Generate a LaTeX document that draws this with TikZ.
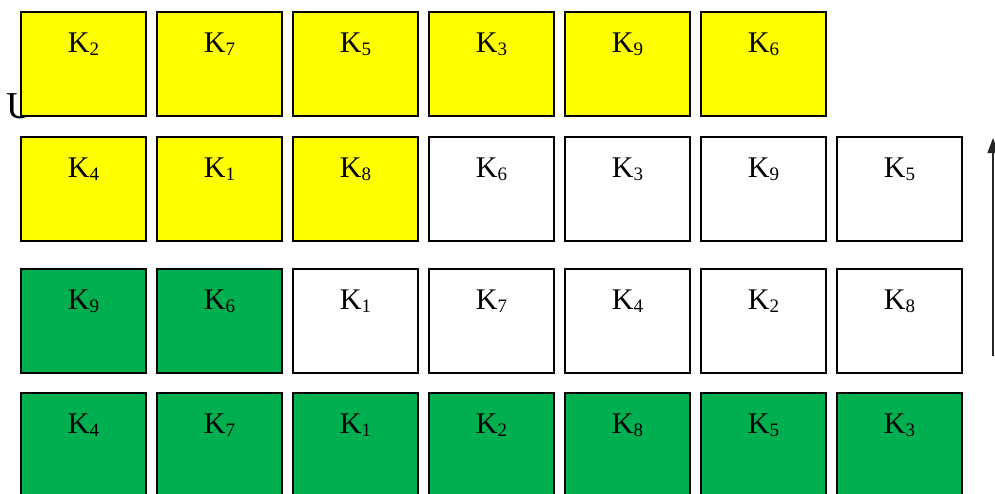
\documentclass[tikz,border=0pt]{standalone}
\usepackage{fontspec}
\setmainfont{Liberation Serif}
\usetikzlibrary{arrows.meta}
\definecolor{kyellow}{RGB}{255,255,0}
\definecolor{kgreen}{RGB}{0,176,80}
\newcommand{\kk}[1]{K\raisebox{-3pt}{\fontsize{19}{19}\selectfont #1}}
\tikzset{
  kbox/.style={draw=black, line width=1.8pt, rectangle, minimum width=125pt, minimum height=104pt, inner sep=0pt},
  ky/.style={kbox, fill=kyellow},
  kg/.style={kbox, fill=kgreen},
  kw/.style={kbox, fill=white},
  klbl/.style={anchor=base, inner sep=0pt, font=\fontsize{30}{36}\selectfont},
}
\begin{document}
\begin{tikzpicture}[x=1pt, y=-1pt]
\useasboundingbox (0,0) rectangle (995,493);
\node[anchor=base west, inner sep=0pt, font=\fontsize{38}{44}\selectfont] (u) at (6,118) {U};
\foreach \row/\cy/\items in {
  1/64/{ky/2,ky/7,ky/5,ky/3,ky/9,ky/6},
  2/189/{ky/4,ky/1,ky/8,kw/6,kw/3,kw/9,kw/5},
  3/321/{kg/9,kg/6,kw/1,kw/7,kw/4,kw/2,kw/8},
  4/445/{kg/4,kg/7,kg/1,kg/2,kg/8,kg/5,kg/3}} {
  \foreach \st/\k [count=\c] in \items {
    \node[\st] (b\row-\c) at ({83.5+136*(\c-1)},\cy) {};
    \node[klbl] (t\row-\c) at ([yshift=-41pt]b\row-\c.north) {\kk{\k}};
  }
}
\coordinate (abot) at (993,356);
\coordinate (atop) at (993,138);
\draw[line width=1.2pt, draw=black!85, -{Triangle[length=15pt, width=11pt]}] (abot) -- (atop);
\end{tikzpicture}
\end{document}
